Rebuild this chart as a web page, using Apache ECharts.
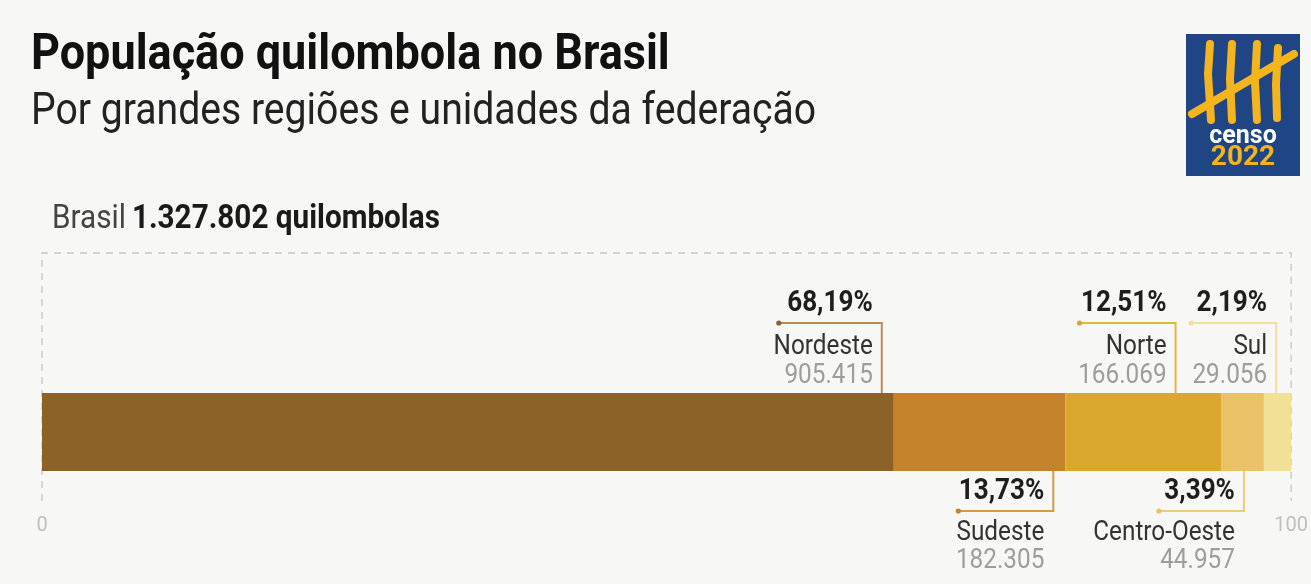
<!DOCTYPE html>
<html><head><meta charset="utf-8">
<script src="https://cdn.jsdelivr.net/npm/echarts@6/dist/echarts.min.js"></script>
<style>html,body{margin:0;padding:0;background:#f7f7f6;}#chart{width:1311px;height:584px;}</style>
</head><body><div id="chart"></div>
<script>
// ---- data ----
const regions = ['Nordeste', 'Sudeste', 'Norte', 'Centro-Oeste', 'Sul'];
const shares = [68.19, 13.73, 12.51, 3.39, 2.19];
const populations = [905415, 182305, 166069, 44957, 29056];
const totalPopulation = 1327802;
const countryName = 'Brasil';
const axisTicks = [0, 100];
const titleText = 'População quilombola no Brasil';
const subtitleText = 'Por grandes regiões e unidades da federação';

// ---- layout / style ----
const barColors = ['#8C6229', '#C4832B', '#DAA82F', '#E8C264', '#F0E196'];
const leaderColors = ['#B58F58', '#D59A45', '#E2B845', '#EDCB7C', '#EFE0A2'];
const labelSide = ['top', 'bottom', 'top', 'bottom', 'top'];
const leaderOffset = [-12, -12, -46, -20, -15];
const leaderLength = [103, 95, 96, 85, 85];
const FONT = 'Roboto, "Liberation Sans", sans-serif';
const SX = 0.9;

function fmtInt(n) { return String(n).replace(/\B(?=(\d{3})+(?!\d))/g, '.'); }
function fmtPct(v) { return v.toFixed(2).replace('.', ',') + '%'; }

function txt(x, y, text, size, weight, color, align, sx) {
  return {
    type: 'text', x: x, y: y, scaleX: sx == null ? SX : sx,
    style: { x: 0, y: 0, text: text, fill: color, fontSize: size, fontWeight: weight,
      fontFamily: FONT, align: align, verticalAlign: 'middle' }
  };
}

const chart = echarts.init(document.getElementById('chart'), null, { renderer: 'canvas' });

const barSeries = regions.map((r, i) => ({
  type: 'bar', name: r, stack: 'total', data: [shares[i]],
  barWidth: '100%', silent: true, z: 2,
  itemStyle: { color: barColors[i] }
}));

const frameSeries = {
  type: 'custom', silent: true, z: 1, data: [[0]],
  renderItem: function (params, api) {
    const l = api.coord([axisTicks[0], 0]);
    const r = api.coord([axisTicks[1], 0]);
    const h = api.size([0, 1])[1];
    const top = l[1] - h / 2, bot = l[1] + h / 2;
    const fy = top - 140;
    const dash = { stroke: '#c6c6c6', lineWidth: 1.3, lineDash: [7, 6], fill: null };
    return {
      type: 'group', children: [
        { type: 'polyline', shape: { points: [[l[0], bot + 30], [l[0], fy], [r[0], fy], [r[0], bot + 30]] }, style: dash },
        {
          type: 'text', x: l[0] + 10, y: fy - 33, scaleX: SX,
          style: {
            x: 0, y: 0, text: '{a|' + countryName + '}  {b|' + fmtInt(totalPopulation) + ' quilombolas}',
            verticalAlign: 'middle', align: 'left',
            rich: {
              a: { fontSize: 33, fontFamily: FONT, fill: '#444', fontWeight: 'normal' },
              b: { fontSize: 33, fontFamily: FONT, fill: '#1a1a1a', fontWeight: 'bold' }
            }
          }
        }
      ]
    };
  }
};

const annoSeries = {
  type: 'custom', silent: true, z: 3,
  data: regions.map((_, i) => [i]),
  renderItem: function (params, api) {
    const i = api.value(0);
    let start = 0;
    for (let k = 0; k < i; k++) start += shares[k];
    const end = Math.min(start + shares[i], axisTicks[1]);
    const p = api.coord([end, 0]);
    const h = api.size([0, 1])[1];
    const barTop = p[1] - h / 2, barBot = p[1] + h / 2;
    const lx = p[0] + leaderOffset[i];
    const dx = lx - leaderLength[i];
    const tr = lx - 9;
    const col = leaderColors[i];
    const children = [];
    let ly, yPct, yName, yVal, pts;
    if (labelSide[i] === 'top') {
      ly = barTop - 70; pts = [[dx, ly], [lx, ly], [lx, barTop]];
      yPct = barTop - 89; yName = barTop - 46; yVal = barTop - 17;
    } else {
      ly = barBot + 40; pts = [[lx, barBot], [lx, ly], [dx, ly]];
      yPct = barBot + 21; yName = barBot + 62; yVal = barBot + 90;
    }
    children.push({ type: 'polyline', shape: { points: pts }, style: { stroke: col, lineWidth: 2, fill: null } });
    children.push({ type: 'circle', shape: { cx: dx, cy: ly, r: 2.6 }, style: { fill: barColors[i] } });
    children.push(txt(tr, yPct, fmtPct(shares[i]), 29, 'bold', '#1e1e1e', 'right'));
    children.push(txt(tr, yName, regions[i], 27, 'normal', '#333', 'right'));
    children.push(txt(tr, yVal, fmtInt(populations[i]), 27, 'normal', '#9d9d9d', 'right'));
    return { type: 'group', children: children };
  }
};

// logo (decoration)
const logo = {
  type: 'group', left: 1186, top: 34, children: [
    { type: 'rect', shape: { x: 0, y: 0, width: 114, height: 142 }, style: { fill: '#1F4584' } },
    { type: 'polyline', shape: { points: [[24, 10], [22, 40], [25, 86]] }, style: { stroke: '#F4B41E', lineWidth: 8, lineCap: 'round', fill: null } },
    { type: 'polyline', shape: { points: [[46, 10], [44, 45], [46, 86]] }, style: { stroke: '#F4B41E', lineWidth: 8, lineCap: 'round', fill: null } },
    { type: 'polyline', shape: { points: [[71, 10], [69, 48], [71, 86]] }, style: { stroke: '#F4B41E', lineWidth: 8, lineCap: 'round', fill: null } },
    { type: 'polyline', shape: { points: [[92, 14], [90, 50], [91, 84]] }, style: { stroke: '#F4B41E', lineWidth: 8, lineCap: 'round', fill: null } },
    { type: 'line', shape: { x1: 6, y1: 80, x2: 108, y2: 20 }, style: { stroke: '#F4B41E', lineWidth: 8, lineCap: 'round' } },
    { type: 'text', x: 57, y: 103, style: { text: 'censo', fill: '#ffffff', fontSize: 25, fontWeight: 'bold', fontFamily: FONT, align: 'center', verticalAlign: 'middle' } },
    { type: 'text', x: 57, y: 124, style: { text: '2022', fill: '#F4B41E', fontSize: 28, fontWeight: 'bold', fontFamily: FONT, align: 'center', verticalAlign: 'middle' } }
  ]
};

chart.setOption({
  backgroundColor: '#f7f7f6',
  animation: false,
  grid: { left: 42, right: 19, top: 393, height: 78, containLabel: false },
  xAxis: {
    type: 'value', min: axisTicks[0], max: axisTicks[1], interval: axisTicks[1] - axisTicks[0],
    axisLine: { show: false }, axisTick: { show: false }, splitLine: { show: false },
    axisLabel: { color: '#bfbfbf', fontSize: 20, fontFamily: FONT, margin: 45 }
  },
  yAxis: { type: 'category', data: [countryName], show: false },
  graphic: [
    { type: 'text', x: 31, y: 56, scaleX: SX, style: { x: 0, y: 0, text: titleText, fill: '#111', fontSize: 50, fontWeight: 'bold', fontFamily: FONT, verticalAlign: 'middle' } },
    { type: 'text', x: 31, y: 113, scaleX: SX, style: { x: 0, y: 0, text: subtitleText, fill: '#222', fontSize: 43.5, fontFamily: FONT, verticalAlign: 'middle' } },
    logo
  ],
  series: [frameSeries].concat(barSeries, [annoSeries])
});
</script></body></html>
